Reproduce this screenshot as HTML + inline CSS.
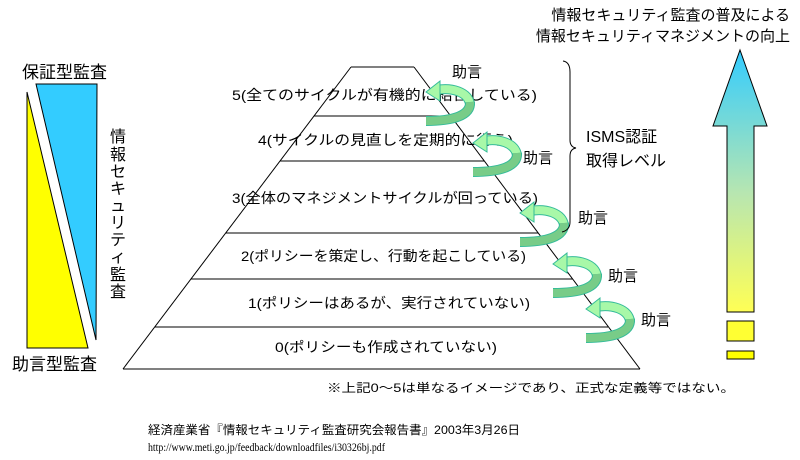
<!DOCTYPE html>
<html><head><meta charset="utf-8"><style>
html,body{margin:0;padding:0;background:#fff;}
svg{display:block;}
text{font-family:"Liberation Sans","Noto Sans CJK JP",sans-serif;fill:#000;}
</style></head><body>
<svg width="800" height="460" viewBox="0 0 800 460" xmlns="http://www.w3.org/2000/svg">
<defs>
<linearGradient id="ag" x1="0" y1="0" x2="0" y2="1">
<stop offset="0" stop-color="#33ccff"/>
<stop offset="0.55" stop-color="#b8e6b0"/>
<stop offset="1" stop-color="#ffff55"/>
</linearGradient>
<g id="sp">
<path d="M10,0 C26,-3 42,2 44,14" fill="none" stroke="#33bb99" stroke-width="10"/>
<path d="M10,0 C26,-3 42,2 44,14" fill="none" stroke="#a8f8a8" stroke-width="8"/>
<path d="M44,12 C45,26 26,31 0,31" fill="none" stroke="#33bb99" stroke-width="10"/>
<path d="M44,12 C45,26 26,31 0,31" fill="none" stroke="#78cc88" stroke-width="8"/>
<polygon points="0,2 14,-9 14,11" fill="#a8f8a8" stroke="#33bb99" stroke-width="1"/>
</g>
</defs>

<!-- left bars -->
<text x="22" y="78" font-size="17">保証型監査</text>
<polygon points="36,84 97,84 96,340" fill="#33ccff" stroke="#000" stroke-width="1"/>
<polygon points="27,92 27,348 88,348" fill="#ffff00" stroke="#000" stroke-width="1"/>
<text x="12" y="370" font-size="17">助言型監査</text>
<g font-size="16">
<text x="110" y="142">情</text><text x="110" y="160">報</text><text x="110" y="177">セ</text>
<text x="110" y="194">キ</text><text x="110" y="211">ュ</text><text x="110" y="228">リ</text>
<text x="110" y="245">テ</text><text x="110" y="262">ィ</text><text x="110" y="280">監</text>
<text x="110" y="297">査</text>
</g>

<!-- pyramid -->
<g stroke="#000" stroke-width="1" fill="none">
<line x1="351" y1="67" x2="414" y2="67"/>
<line x1="351" y1="67" x2="123" y2="369"/>
<line x1="414" y1="67" x2="640" y2="369"/>
<line x1="123" y1="369" x2="640" y2="369"/>
<line x1="314" y1="116" x2="451" y2="116"/>
<line x1="280" y1="161" x2="484" y2="161"/>
<line x1="226" y1="233" x2="538" y2="233"/>
<line x1="191" y1="279" x2="573" y2="279"/>
<line x1="155" y1="327" x2="608" y2="327"/>
</g>
<g font-size="14">
<text x="232" y="100" textLength="305" lengthAdjust="spacingAndGlyphs">5(全てのサイクルが有機的に結合している)</text>
<text x="258" y="145" textLength="255" lengthAdjust="spacingAndGlyphs">4(サイクルの見直しを定期的に行う)</text>
<text x="232" y="203" textLength="306" lengthAdjust="spacingAndGlyphs">3(全体のマネジメントサイクルが回っている)</text>
<text x="241" y="261" textLength="285" lengthAdjust="spacingAndGlyphs">2(ポリシーを策定し、行動を起こしている)</text>
<text x="248" y="308" textLength="282" lengthAdjust="spacingAndGlyphs">1(ポリシーはあるが、実行されていない)</text>
<text x="275" y="352" textLength="222" lengthAdjust="spacingAndGlyphs">0(ポリシーも作成されていない)</text>
</g>

<!-- spirals -->
<use href="#sp" x="426" y="90"/>
<use href="#sp" x="473" y="141"/>
<use href="#sp" x="520" y="211"/>
<use href="#sp" x="553" y="262"/>
<use href="#sp" x="586" y="307"/>
<g font-size="15">
<text x="452" y="77">助言</text>
<text x="523" y="163">助言</text>
<text x="578" y="223">助言</text>
<text x="608" y="281">助言</text>
<text x="641" y="325">助言</text>
</g>

<!-- brace -->
<path d="M563,61 Q570,62 570,72 L570,140 Q570,147 576,148 Q570,149 570,156 L570,222 Q570,230 562,232" fill="none" stroke="#000" stroke-width="1"/>
<text x="586" y="142" font-size="16">ISMS認証</text>
<text x="586" y="166" font-size="16">取得レベル</text>

<!-- arrow -->
<text x="790" y="20" font-size="15" text-anchor="end">情報セキュリティ監査の普及による</text>
<text x="790" y="41" font-size="15" text-anchor="end">情報セキュリティマネジメントの向上</text>
<polygon points="740,50 767,126 754,126 754,312 727,312 727,126 713,126" fill="url(#ag)" stroke="#000" stroke-width="1"/>
<rect x="727" y="321" width="27" height="20" fill="#ffff33" stroke="#000"/>
<rect x="727" y="351" width="27" height="8" fill="#ffff00" stroke="#000"/>

<!-- notes -->
<text x="327" y="392" font-size="12" textLength="408" lengthAdjust="spacingAndGlyphs">※上記0～5は単なるイメージであり、正式な定義等ではない。</text>
<text x="148" y="434" font-size="12" textLength="372" lengthAdjust="spacingAndGlyphs">経済産業省『情報セキュリティ監査研究会報告書』2003年3月26日</text>
<text x="148" y="451" font-size="12" textLength="237" lengthAdjust="spacingAndGlyphs" style="font-family:'Liberation Serif',serif">http://www.meti.go.jp/feedback/downloadfiles/i30326bj.pdf</text>
</svg>
</body></html>
